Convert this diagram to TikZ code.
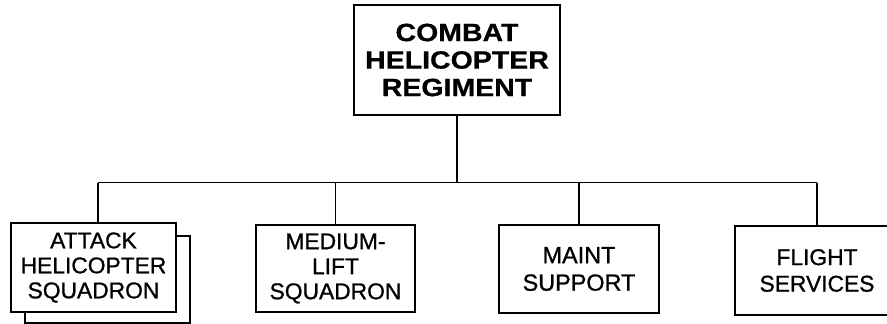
\documentclass[tikz,border=0pt]{standalone}
\usepackage{fontspec}
\setmainfont{Liberation Sans}
\newfontfamily\topfont[FakeStretch=1.14,FakeBold=0.6]{Liberation Sans Bold}
\newfontfamily\unitfont[FakeBold=0.9]{Liberation Sans}
\begin{document}
\begin{tikzpicture}[x=1pt,y=-1pt,
  unitbox/.style={draw=black,line width=2pt,fill=white,inner sep=0pt,align=center,
    font=\unitfont\fontsize{22.8}{25}\selectfont},
  topbox/.style={draw=black,line width=2.4pt,fill=white,inner sep=0pt,align=center,
    font=\topfont\fontsize{25}{27.5}\selectfont},
  link/.style={draw=black,line width=1.9pt}]
\useasboundingbox (0,0) rectangle (887,324);
% top
\node[topbox,minimum width=206pt,minimum height=110pt] (top) at (457,60)
  {COMBAT\\HELICOPTER\\REGIMENT};
% bus
\coordinate (busL) at (98,182.5);
\coordinate (busR) at (817,182.5);
% children
\node[unitbox,minimum width=165pt,minimum height=87pt] (shadow) at (107.5,279.5) {};
\node[unitbox,minimum width=165pt,minimum height=89pt] (att) at (93.5,267.5)
  {ATTACK\\HELICOPTER\\SQUADRON};
\node[unitbox,minimum width=159pt,minimum height=87pt] (med) at (335.5,268.5)
  {MEDIUM-\\LIFT\\SQUADRON};
\node[unitbox,minimum width=160pt,minimum height=88pt,
  font=\unitfont\fontsize{23.4}{27.5}\selectfont] (mnt) at (579,269)
  {MAINT\\SUPPORT};
\node[unitbox,minimum width=164pt,minimum height=89pt,
  font=\unitfont\fontsize{22.8}{26.5}\selectfont] (flt) at (817,270.5)
  {FLIGHT\\SERVICES};
% connectors
\draw[link] (top.south) -- (top.south |- busL);
\draw[link] (busL) -- (busR);
\draw[link] (busL) -- (busL |- att.north);
\draw[link] (med.north |- busL) -- (med.north);
\draw[link] (mnt.north |- busL) -- (mnt.north);
\draw[link] (busR) -- (flt.north);
\end{tikzpicture}
\end{document}
